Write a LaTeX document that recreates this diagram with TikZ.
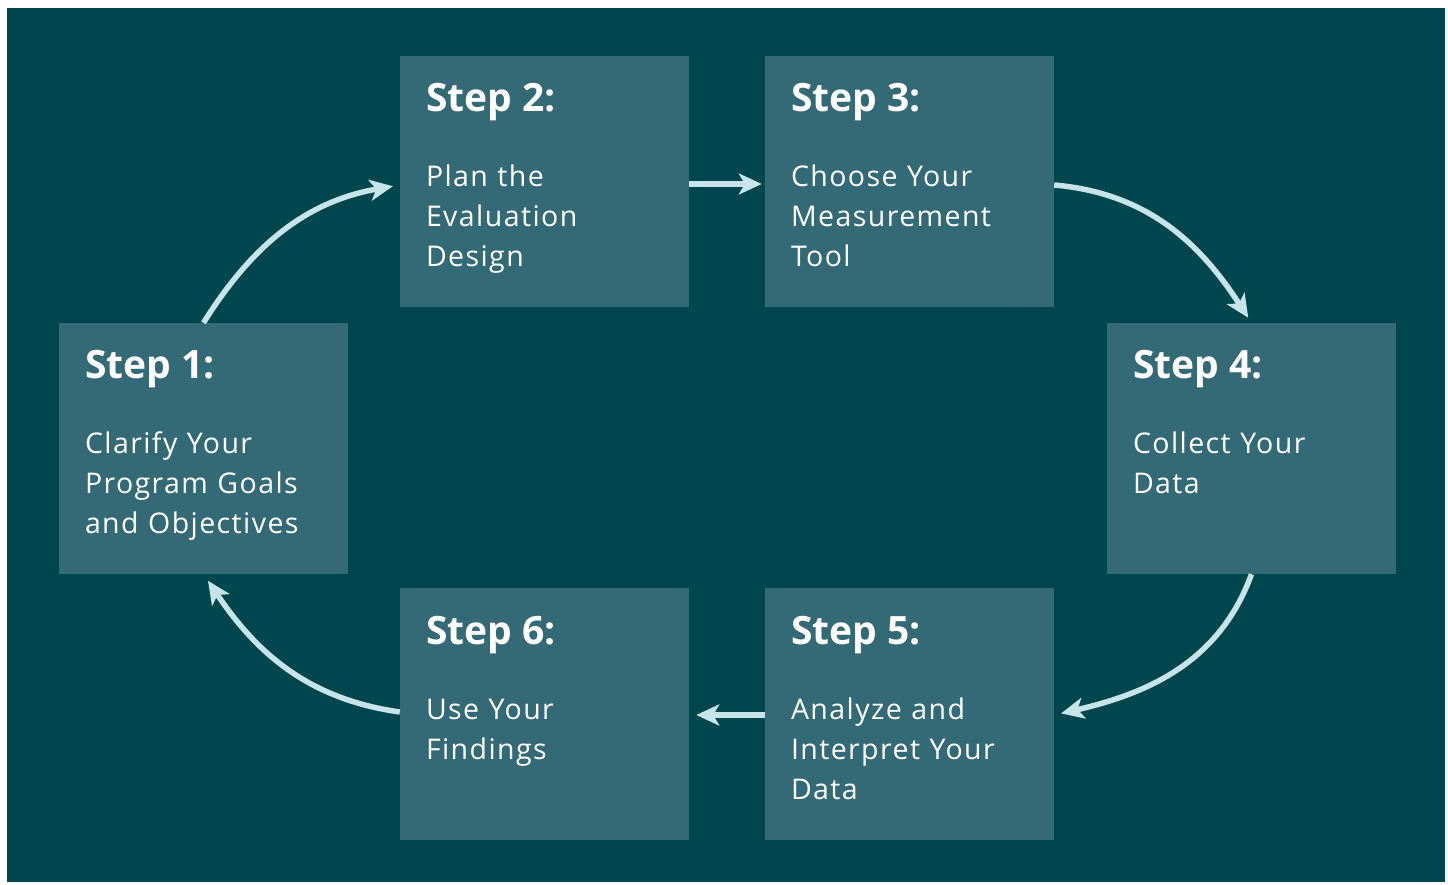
\documentclass[tikz,border=0pt]{standalone}
\usepackage{fontspec}
\setmainfont{Open Sans}
\newfontfamily\bodyfont[LetterSpace=5]{Open Sans}
\usetikzlibrary{arrows.meta}
\definecolor{bgteal}{HTML}{00464F}
\definecolor{boxteal}{HTML}{336A76}
\definecolor{arrowblue}{HTML}{C6E4EA}
\tikzset{
  stepbox/.style={fill=boxteal, draw=none, minimum width=289pt, minimum height=251pt, inner sep=0pt},
  steptitle/.style={anchor=base west, inner sep=0pt, text=white, font={\bfseries\fontsize{39}{47}\selectfont}},
  stepbody/.style={anchor=base west, inner sep=0pt, text=white, text width=280pt, align=left, font={\bodyfont\fontsize{28.5}{40}\selectfont}},
  flow/.style={draw=arrowblue, line width=5.5pt, -{Stealth[length=23pt, width=21pt, inset=6pt]}}
}
\begin{document}
\begin{tikzpicture}[x=1pt,y=1pt]
\useasboundingbox (0,0) rectangle (1448,884);
\fill[white] (0,0) rectangle (1448,884);
\fill[bgteal] (7,2) rectangle (1445,876);
% boxes (centres in px, y up)
\node[stepbox] (s1) at (203.5,435.5) {};
\node[stepbox] (s2) at (544.5,702.5) {};
\node[stepbox] (s3) at (909.5,702.5) {};
\node[stepbox] (s4) at (1251.5,435.5) {};
\node[stepbox] (s5) at (909.5,170) {};
\node[stepbox] (s6) at (544.5,170) {};
% texts
\node[steptitle] (t1) at ([shift={(26,-56)}]s1.north west) {Step 1:};
\node[stepbody] (b1) at ([shift={(26,-131)}]s1.north west) {Clarify Your\\Program Goals\\and Objectives};
\node[steptitle] (t2) at ([shift={(26,-56)}]s2.north west) {Step 2:};
\node[stepbody] (b2) at ([shift={(26,-131)}]s2.north west) {Plan the\\Evaluation\\Design};
\node[steptitle] (t3) at ([shift={(26,-56)}]s3.north west) {Step 3:};
\node[stepbody] (b3) at ([shift={(26,-131)}]s3.north west) {Choose Your\\Measurement\\Tool};
\node[steptitle] (t4) at ([shift={(26,-56)}]s4.north west) {Step 4:};
\node[stepbody] (b4) at ([shift={(26,-131)}]s4.north west) {Collect Your\\Data};
\node[steptitle] (t5) at ([shift={(26,-56)}]s5.north west) {Step 5:};
\node[stepbody] (b5) at ([shift={(26,-131)}]s5.north west) {Analyze and\\Interpret Your\\Data};
\node[steptitle] (t6) at ([shift={(26,-56)}]s6.north west) {Step 6:};
\node[stepbody] (b6) at ([shift={(26,-131)}]s6.north west) {Use Your\\Findings};
% connectors
\draw[flow, shorten >=7pt] (s1.north) to[out=58, in=190] ([yshift=-3.5]s2.west);
\draw[flow, shorten >=3pt] ([yshift=-2.5]s2.east) -- ([yshift=-2.5]s3.west);
\draw[flow, shorten >=6pt] ([yshift=-3.5]s3.east) to[out=-5, in=123] (s4.north);
\draw[flow, shorten >=7pt] (s4.south) to[out=250, in=13] ([yshift=-1]s5.east);
\draw[flow, shorten >=7pt] ([yshift=-1]s5.west) -- ([yshift=-1]s6.east);
\draw[flow, shorten >=8pt] ([yshift=2]s6.west) to[out=172, in=304] (s1.south);
\end{tikzpicture}
\end{document}
